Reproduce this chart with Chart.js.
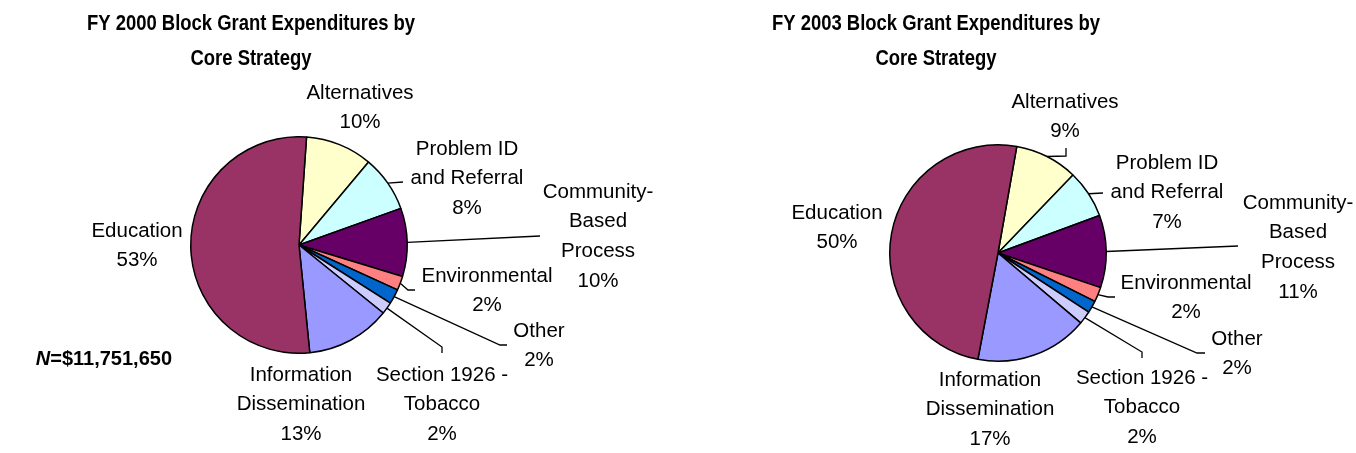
<!DOCTYPE html>
<html>
<head>
<meta charset="utf-8">
<script src="https://cdn.jsdelivr.net/npm/chart.js@4.4.1/dist/chart.umd.min.js"></script>
<style>
  html, body { margin: 0; padding: 0; background: #ffffff; }
  #wrap { position: relative; width: 1356px; height: 453px; overflow: hidden; }
  .box { position: absolute; top: 0; width: 678px; height: 453px; }
  #b1 { left: 0; }
  #b2 { left: 678px; }
</style>
</head>
<body>
<div id="wrap">
  <div class="box" id="b1"><canvas id="c1" width="678" height="453"></canvas></div>
  <div class="box" id="b2"><canvas id="c2" width="678" height="453"></canvas></div>
</div>
<script>
// ---- data ----
const categories = [
  "Alternatives",
  "Problem ID\nand Referral",
  "Community-\nBased\nProcess",
  "Environmental",
  "Other",
  "Section 1926 -\nTobacco",
  "Information\nDissemination",
  "Education"
];
const sliceColors = ["#FFFFCC", "#CCFFFF", "#660066", "#FF8080", "#0066CC", "#CCCCFF", "#9999FF", "#993366"];
const values2000 = [10.0, 8.4, 10.2, 2.1, 2.2, 1.8, 12.6, 52.7];
const values2003 = [9.4, 7.2, 10.8, 2.2, 1.8, 2.0, 16.8, 49.8];
const title2000 = ["FY 2000 Block Grant Expenditures by", "Core Strategy"];
const title2003 = ["FY 2003 Block Grant Expenditures by", "Core Strategy"];
const total2000 = "=$11,751,650";
const total2003 = "=$12,627,524";

// ---- layout (label anchors relative to pie centre, px) ----
const labelPos2000 = [[61,-152],[168,-96],[299,-53],[188,31],[240,86],[143,130],[2,130],[-162,-14]];
const labelPos2003 = [[67,-151],[169,-90],[300,-50],[188,30],[239,86],[144,125],[-8,127],[-161,-40]];
// leader paths (points after the slice edge point), null = none
const leaders2000 = [null, [[104,-63]], [[241,-9]], [[109,45],[116,45]], [[201,100],[208,100]], [[143,102],[143,108]], null, null];
const leaders2003 = [[[68,-97],[68,-105]], [[105,-60]], [[240,-7]], [[110,44],[117,44]], [[199,100],[207,100]], [[144,99],[144,105]], null, null];

const LABEL_FONT = '20.5px "Liberation Sans", Arial, sans-serif';
const TITLE_FONT = 'bold 22.5px "Liberation Sans", Arial, sans-serif';
const TITLE_SX = 0.82;
const NFONT_B = 'bold 20px "Liberation Sans", Arial, sans-serif';
const NFONT_BI = 'italic bold 20px "Liberation Sans", Arial, sans-serif';
const LINE_H = 29.8;

function makeDecor(opts) {
  return {
    id: 'decor',
    afterDraw(chart) {
      const ctx = chart.ctx;
      const meta = chart.getDatasetMeta(0);
      const arcs = meta.data;
      const cx = arcs[0].x, cy = arcs[0].y;
      const vals = chart.data.datasets[0].data;
      const tot = vals.reduce((a, b) => a + b, 0);
      ctx.save();
      // leaders
      ctx.strokeStyle = '#000';
      ctx.lineWidth = 1.3;
      arcs.forEach((a, i) => {
        const path = opts.leaders[i];
        if (!path) return;
        const mid = (a.startAngle + a.endAngle) / 2;
        const r = a.outerRadius;
        ctx.beginPath();
        ctx.moveTo(cx + r * Math.cos(mid), cy + r * Math.sin(mid));
        path.forEach(p => ctx.lineTo(cx + p[0], cy + p[1]));
        ctx.stroke();
      });
      // labels
      ctx.fillStyle = '#000';
      ctx.font = LABEL_FONT;
      ctx.textAlign = 'center';
      ctx.textBaseline = 'middle';
      chart.data.labels.forEach((lab, i) => {
        const lines = lab.split('\n').concat([Math.round(vals[i] / tot * 100) + '%']);
        const p = opts.labelPos[i];
        lines.forEach((t, k) => ctx.fillText(t, cx + p[0], cy + p[1] + k * LINE_H));
      });
      // title (slightly condensed bold)
      ctx.font = TITLE_FONT;
      opts.title.forEach((t, k) => {
        ctx.save();
        ctx.translate(cx + opts.titleDx, opts.titleY + k * 35);
        ctx.scale(TITLE_SX, 1);
        ctx.fillText(t, 0, 0);
        ctx.restore();
      });
      // N= total
      ctx.textAlign = 'left';
      ctx.font = NFONT_BI;
      const wN = ctx.measureText('N').width;
      ctx.font = NFONT_B;
      const wR = ctx.measureText(opts.total).width;
      const x0 = opts.nRight - wN - wR;
      ctx.font = NFONT_BI;
      ctx.fillText('N', x0, opts.nY);
      ctx.font = NFONT_B;
      ctx.fillText(opts.total, x0 + wN, opts.nY);
      ctx.restore();
    }
  };
}

function makePie(canvasId, values, rotation, padding, opts) {
  return new Chart(document.getElementById(canvasId), {
    type: 'pie',
    data: {
      labels: categories,
      datasets: [{
        data: values,
        backgroundColor: sliceColors,
        borderColor: '#000000',
        borderWidth: 1.5,
        borderAlign: 'center'
      }]
    },
    options: {
      responsive: false,
      animation: false,
      devicePixelRatio: 1,
      rotation: rotation,
      layout: { padding: padding },
      plugins: { legend: { display: false }, tooltip: { enabled: false }, title: { display: false } }
    },
    plugins: [makeDecor(opts)]
  });
}

makePie('c1', values2000, 4, { left: 190, right: 270, top: 136, bottom: 99 },
  { labelPos: labelPos2000, leaders: leaders2000, title: title2000, titleDx: -48, titleY: 24, total: total2000, nRight: 172, nY: 359 });
makePie('c2', values2003, 10, { left: 211, right: 249, top: 144, bottom: 91 },
  { labelPos: labelPos2003, leaders: leaders2003, title: title2003, titleDx: -62, titleY: 24, total: total2003, nRight: 853, nY: 384 });
</script>
</body>
</html>
